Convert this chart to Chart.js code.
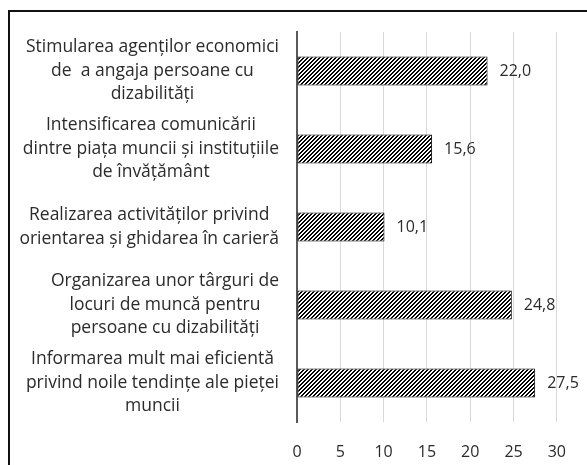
<!DOCTYPE html>
<html>
<head>
<meta charset="utf-8">
<script src="https://cdn.jsdelivr.net/npm/chart.js@4"></script>
<style>
  html, body { margin: 0; padding: 0; background: #fff; overflow: hidden; }
  .wrap { position: relative; width: 587px; height: 465px; overflow: hidden; }
  .frame { position: absolute; left: 8px; top: 10px; width: 620px; height: 500px; border: 2px solid #111; }
  canvas { position: absolute; left: 0; top: 0; }
</style>
</head>
<body>
<div class="wrap">
  <div class="frame"></div>
  <canvas id="chart" width="587" height="465"></canvas>
</div>
<script>
const categories = [
    ['Stimularea agenților economici', 'de  a angaja persoane cu', 'dizabilități'],
    ['Intensificarea comunicării', 'dintre piața muncii și instituțiile', 'de învățământ'],
    ['Realizarea activităților privind', 'orientarea și ghidarea în carieră'],
    ['Organizarea unor târguri de', 'locuri de muncă pentru', 'persoane cu dizabilități'],
    ['Informarea mult mai eficientă', 'privind noile tendințe ale pieței', 'muncii']
];
const values = [22.0, 15.6, 10.1, 24.8, 27.5];
const xTicks = [0, 5, 10, 15, 20, 25, 30];

const textColor = '#2b2b2b';
const fontFamily = '"Open Sans", sans-serif';

// diagonal hatch like the excel "wide upward diagonal" fill
const makeHatch = () => {
    const c = document.createElement('canvas');
    c.width = 4;
    c.height = 4;
    const g = c.getContext('2d');
    g.fillStyle = '#fff';
    g.fillRect(0, 0, 4, 4);
    g.fillStyle = '#000';
    for (let y = 0; y < 4; y++) {
        for (let x = 0; x < 4; x++) {
            if ((x + y) % 4 < 2) g.fillRect(x, y, 1, 1);
        }
    }
    return g.createPattern(c, 'repeat');
};

// wrapped category labels, each block centered on its own widest line
const categoryLabels = {
    id: 'categoryLabels',
    afterDraw(chart) {
        const { ctx, chartArea } = chart;
        const yScale = chart.scales.y;
        const lineH = 23.5;
        const right = chartArea.left - 18;
        ctx.save();
        ctx.font = '17.5px ' + fontFamily;
        ctx.fillStyle = textColor;
        ctx.textAlign = 'center';
        ctx.textBaseline = 'middle';
        categories.forEach((lines, i) => {
            const cy = yScale.getPixelForTick(i);
            const widest = Math.max(...lines.map(l => ctx.measureText(l).width));
            const cx = right - widest / 2;
            const top = cy - (lines.length - 1) * lineH / 2;
            lines.forEach((l, j) => ctx.fillText(l, cx, top + j * lineH));
        });
        ctx.restore();
    }
};

const valueLabels = {
    id: 'valueLabels',
    afterDatasetsDraw(chart) {
        const { ctx } = chart;
        const meta = chart.getDatasetMeta(0);
        ctx.save();
        ctx.font = '16px ' + fontFamily;
        ctx.fillStyle = textColor;
        ctx.textAlign = 'left';
        ctx.textBaseline = 'middle';
        meta.data.forEach((bar, i) => {
            ctx.fillText(values[i].toFixed(1).replace('.', ','), bar.x + 12, bar.y);
        });
        ctx.restore();
    }
};

new Chart(document.getElementById('chart'), {
    type: 'bar',
    data: {
        labels: categories,
        datasets: [{
            data: values,
            backgroundColor: makeHatch(),
            borderColor: '#000',
            borderWidth: 1,
            borderSkipped: false,
            barPercentage: 0.37,
            categoryPercentage: 1
        }]
    },
    options: {
        indexAxis: 'y',
        responsive: false,
        animation: false,
        layout: {
            padding: { top: 32, left: 289, right: 27, bottom: 0 }
        },
        scales: {
            x: {
                min: xTicks[0],
                max: xTicks[xTicks.length - 1],
                afterBuildTicks: (axis) => {
                    axis.ticks = xTicks.map(v => ({ value: v }));
                },
                afterFit: (axis) => {
                    axis.height = 43;
                },
                grid: {
                    color: '#d9d9d9',
                    lineWidth: 1,
                    drawTicks: false
                },
                border: { display: false },
                ticks: {
                    color: textColor,
                    padding: 21,
                    font: { family: fontFamily, size: 16 }
                }
            },
            y: {
                ticks: { display: false },
                grid: { display: false },
                border: { display: true, color: '#595959', width: 2 }
            }
        },
        plugins: {
            legend: { display: false },
            tooltip: { enabled: false }
        }
    },
    plugins: [categoryLabels, valueLabels]
});
</script>
</body>
</html>
